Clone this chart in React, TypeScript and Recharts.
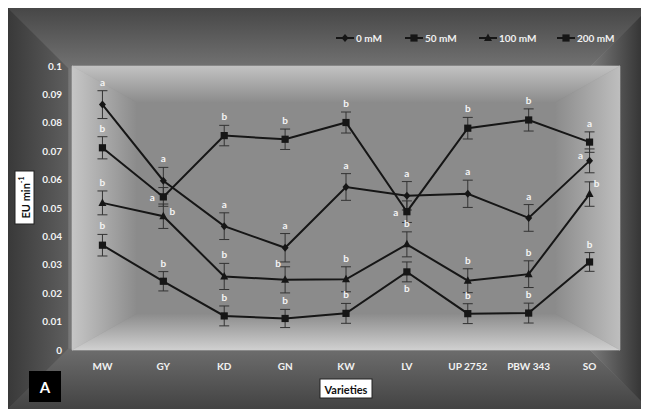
import React from 'react'
import { ComposedChart, Line, XAxis, YAxis, ErrorBar, LabelList } from 'recharts'

const W = 641
const H = 401
const FONT = 'Lato, "Open Sans", sans-serif'

const VARIETIES = ['MW', 'GY', 'KD', 'GN', 'KW', 'LV', 'UP 2752', 'PBW 343', 'SO']
const Y_TICKS = [0, 0.01, 0.02, 0.03, 0.04, 0.05, 0.06, 0.07, 0.08, 0.09, 0.1]

// EU min-1 per variety
const EU_0   = [0.0864, 0.0596, 0.0436, 0.0360, 0.0574, 0.0543, 0.0550, 0.0465, 0.0666]
const EU_50  = [0.0712, 0.0539, 0.0755, 0.0742, 0.0801, 0.0487, 0.0781, 0.0810, 0.0732]
const EU_100 = [0.0518, 0.0471, 0.0259, 0.0247, 0.0249, 0.0372, 0.0244, 0.0267, 0.0549]
const EU_200 = [0.0369, 0.0242, 0.0120, 0.0111, 0.0129, 0.0275, 0.0128, 0.0130, 0.0310]

// error bars (+/-)
const ERR_0   = [0.0049, 0.0047, 0.0047, 0.0050, 0.0047, 0.0050, 0.0048, 0.0047, 0.0042]
const ERR_50  = [0.0039, 0.0033, 0.0036, 0.0036, 0.0037, 0.0038, 0.0038, 0.0039, 0.0036]
const ERR_100 = [0.0042, 0.0043, 0.0046, 0.0046, 0.0044, 0.0044, 0.0042, 0.0047, 0.0043]
const ERR_200 = [0.0038, 0.0034, 0.0035, 0.0032, 0.0035, 0.0035, 0.0035, 0.0035, 0.0033]

// significance letters
const SIG_0   = ['a', 'a', 'a', 'a', 'a', 'a', 'a', 'a', 'a']
const SIG_50  = ['b', 'a', 'b', 'b', 'b', 'a', 'b', 'b', 'a']
const SIG_100 = ['b', 'b', 'b', 'b', 'b', 'b', 'b', 'b', 'b']
const SIG_200 = ['b', 'b', 'b', 'b', 'b', 'b', 'b', 'b', 'b']

// where each letter sits next to its point
const POS_0   = ['top', 'top', 'top', 'top', 'top', 'top', 'top', 'top', 'leftUp']
const POS_50  = ['top', 'left', 'top', 'top', 'top', 'left', 'top', 'top', 'top']
const POS_100 = ['top', 'right', 'top', 'leftTop', 'top', 'top', 'top', 'top', 'rightUp']
const POS_200 = ['top', 'top', 'top', 'top', 'top', 'below', 'top', 'top', 'top']

const OFFSETS: Record<string, { dx: number; dy: number }> = {
  top:     { dx: 0,   dy: -9 },
  below:   { dx: 0,   dy: 6 },
  left:    { dx: -11, dy: 0 },
  right:   { dx: 9,   dy: -5 },
  leftUp:  { dx: -9,  dy: -6 },
  rightUp: { dx: 7,   dy: -11 },
  leftTop: { dx: -7,  dy: -4 },
}

const SERIES = [
  { key: 's0', name: '0 mM',   values: EU_0,   err: ERR_0,   sig: SIG_0,   pos: POS_0,   marker: 'diamond' },
  { key: 's1', name: '50 mM',  values: EU_50,  err: ERR_50,  sig: SIG_50,  pos: POS_50,  marker: 'square' },
  { key: 's2', name: '100 mM', values: EU_100, err: ERR_100, sig: SIG_100, pos: POS_100, marker: 'triangle' },
  { key: 's3', name: '200 mM', values: EU_200, err: ERR_200, sig: SIG_200, pos: POS_200, marker: 'square' },
]

const rows = VARIETIES.map((name, i) => {
  const r: Record<string, any> = { name }
  SERIES.forEach(s => {
    const v = s.values[i], e = s.err[i], p = s.pos[i]
    r[s.key] = v
    r[s.key + 'e'] = e
    r[s.key + 'l'] = s.sig[i]
    r[s.key + 'a'] = p === 'top' || p === 'leftTop' ? v + e : p === 'below' ? v - e : v
  })
  return r
})

const LINE_CLR = '#161616'

function markerPath(kind: string, cx: number, cy: number) {
  if (kind === 'diamond') return `M${cx},${cy - 4}L${cx + 3.5},${cy}L${cx},${cy + 4}L${cx - 3.5},${cy}Z`
  if (kind === 'triangle') return `M${cx},${cy - 4.5}L${cx + 4},${cy + 3}L${cx - 4},${cy + 3}Z`
  return `M${cx - 3.6},${cy - 3.6}h7.2v7.2h-7.2Z`
}

const makeDot = (kind: string) => (props: any) => {
  const { cx, cy, index } = props
  if (cx == null || cy == null) return <g key={`n-${index}`} />
  return <path key={`${kind}-${index}`} d={markerPath(kind, cx, cy)} fill={LINE_CLR} />
}

const makeLetter = (pos: string[]) => (props: any) => {
  const x = props.x ?? props.viewBox?.x
  const y = props.y ?? props.viewBox?.y
  const o = OFFSETS[pos[props.index]] || OFFSETS.top
  return (
    <text key={`l-${props.index}`} x={x + o.dx} y={y + o.dy} textAnchor="middle" dominantBaseline="central"
      fill="#f4f4f4" fontSize={10} fontWeight={700} fontFamily={FONT}>{props.value}</text>
  )
}

// rectangular "path" gradient built from four trapezoids
function FrameGradient({ id, x0, y0, x1, y1, dx, dy, sides, center }: any) {
  const ix0 = x0 + dx, iy0 = y0 + dy, ix1 = x1 - dx, iy1 = y1 - dy
  const parts = [
    { k: 't', pts: `${x0},${y0} ${x1},${y0} ${ix1},${iy0} ${ix0},${iy0}`, g: [0, y0, 0, iy0], c: sides.top },
    { k: 'b', pts: `${x0},${y1} ${x1},${y1} ${ix1},${iy1} ${ix0},${iy1}`, g: [0, y1, 0, iy1], c: sides.bottom },
    { k: 'l', pts: `${x0},${y0} ${ix0},${iy0} ${ix0},${iy1} ${x0},${y1}`, g: [x0, 0, ix0, 0], c: sides.left },
    { k: 'r', pts: `${x1},${y0} ${ix1},${iy0} ${ix1},${iy1} ${x1},${y1}`, g: [x1, 0, ix1, 0], c: sides.right },
  ]
  return (
    <g>
      <defs>
        {parts.map(p => (
          <linearGradient key={p.k} id={id + p.k} gradientUnits="userSpaceOnUse" x1={p.g[0]} y1={p.g[1]} x2={p.g[2]} y2={p.g[3]}>
            <stop offset="0" stopColor={p.c[0]} />
            <stop offset="1" stopColor={p.c[1]} />
          </linearGradient>
        ))}
      </defs>
      <rect x={ix0} y={iy0} width={ix1 - ix0} height={iy1 - iy0} fill={center} />
      {parts.map(p => (
        <polygon key={p.k} points={p.pts} fill={`url(#${id + p.k})`} stroke={`url(#${id + p.k})`} strokeWidth={0.6} />
      ))}
    </g>
  )
}

const PLOT = { x0: 64, y0: 58, x1: 612, y1: 342 }

export default function App() {
  return (
    <div style={{ position: 'relative', width: W, height: H, fontFamily: FONT }}>
      <svg width={W} height={H} style={{ position: 'absolute', left: 0, top: 0 }}>
        <FrameGradient id="outer" x0={0} y0={0} x1={W} y1={H} dx={60} dy={60}
          sides={{ top: ['#474747', '#727272'], left: ['#393939', '#5e5e5e'], right: ['#2b2b2b', '#7c7c7c'], bottom: ['#434343', '#6d6d6d'] }}
          center="#777" />
        <FrameGradient id="inner" x0={PLOT.x0} y0={PLOT.y0} x1={PLOT.x1} y1={PLOT.y1} dx={64} dy={36}
          sides={{ top: ['#c2c2c2', '#8c8c8c'], left: ['#c6c6c6', '#8c8c8c'], right: ['#bebebe', '#8c8c8c'], bottom: ['#d0d0d0', '#8c8c8c'] }}
          center="#8b8b8b" />
      </svg>

      <ComposedChart width={W} height={H} data={rows}
        margin={{ top: PLOT.y0, right: W - PLOT.x1, bottom: H - PLOT.y1 - 30, left: 0 }}>
        <XAxis dataKey="name" scale="band" axisLine={false} tickLine={false} tickSize={0} tickMargin={13} height={30} interval={0}
          tick={{ fill: '#f2f2f2', fontSize: 10, fontWeight: 700, fontFamily: FONT }} />
        <YAxis type="number" domain={[0, 0.1]} ticks={Y_TICKS} interval={0} width={PLOT.x0}
          axisLine={false} tickLine={false} tickSize={0} tickMargin={10}
          tickFormatter={(v: number) => String(v)}
          tick={{ fill: '#f2f2f2', fontSize: 10, fontWeight: 700, fontFamily: FONT }} />
        {SERIES.map(s => (
          <Line key={s.key} dataKey={s.key} name={s.name} stroke={LINE_CLR} strokeWidth={2}
            dot={makeDot(s.marker)} activeDot={false} isAnimationActive={false}>
            <ErrorBar dataKey={s.key + 'e'} direction="y" width={5} stroke="#333" strokeWidth={1} />
          </Line>
        ))}
        {SERIES.map(s => (
          <Line key={s.key + 'a'} dataKey={s.key + 'a'} stroke="none" dot={false} activeDot={false}
            legendType="none" isAnimationActive={false}>
            <LabelList dataKey={s.key + 'l'} content={makeLetter(s.pos)} />
          </Line>
        ))}
      </ComposedChart>

      <svg width={W} height={H} style={{ position: 'absolute', left: 0, top: 0, pointerEvents: 'none' }}>
        {/* legend */}
        {SERIES.map((s, i) => {
          const x = [328, 397, 471, 549][i]
          return (
            <g key={s.key}>
              <line x1={x} y1={30} x2={x + 18} y2={30} stroke={LINE_CLR} strokeWidth={2} />
              <path d={markerPath(s.marker, x + 9, 30)} fill={LINE_CLR} />
              <text x={x + 20} y={30} dominantBaseline="central" fill="#f0f0f0" fontSize={10} fontWeight={700} fontFamily={FONT}>{s.name}</text>
            </g>
          )
        })}

        {/* y title */}
        <rect x={7} y={163} width={19} height={53} fill="#fff" stroke="#222" strokeWidth={1} />
        <text transform="translate(17,189.5) rotate(-90)" textAnchor="middle" dominantBaseline="central"
          fill="#111" fontSize={11} fontWeight={700} fontFamily={FONT}>
          EU min<tspan fontSize={7} dy={-4}>-1</tspan>
        </text>

        {/* x title */}
        <rect x={312} y={371} width={52} height={19} fill="#fff" stroke="#222" strokeWidth={1} />
        <text x={338} y={381} textAnchor="middle" dominantBaseline="central"
          fill="#111" fontSize={11} fontWeight={700} fontFamily={FONT}>Varieties</text>

        {/* panel tag */}
        <rect x={21} y={363} width={32} height={31} fill="#000" />
        <text x={37} y={379} textAnchor="middle" dominantBaseline="central"
          fill="#fff" fontSize={15} fontWeight={700} fontFamily={FONT}>A</text>
      </svg>
    </div>
  )
}
